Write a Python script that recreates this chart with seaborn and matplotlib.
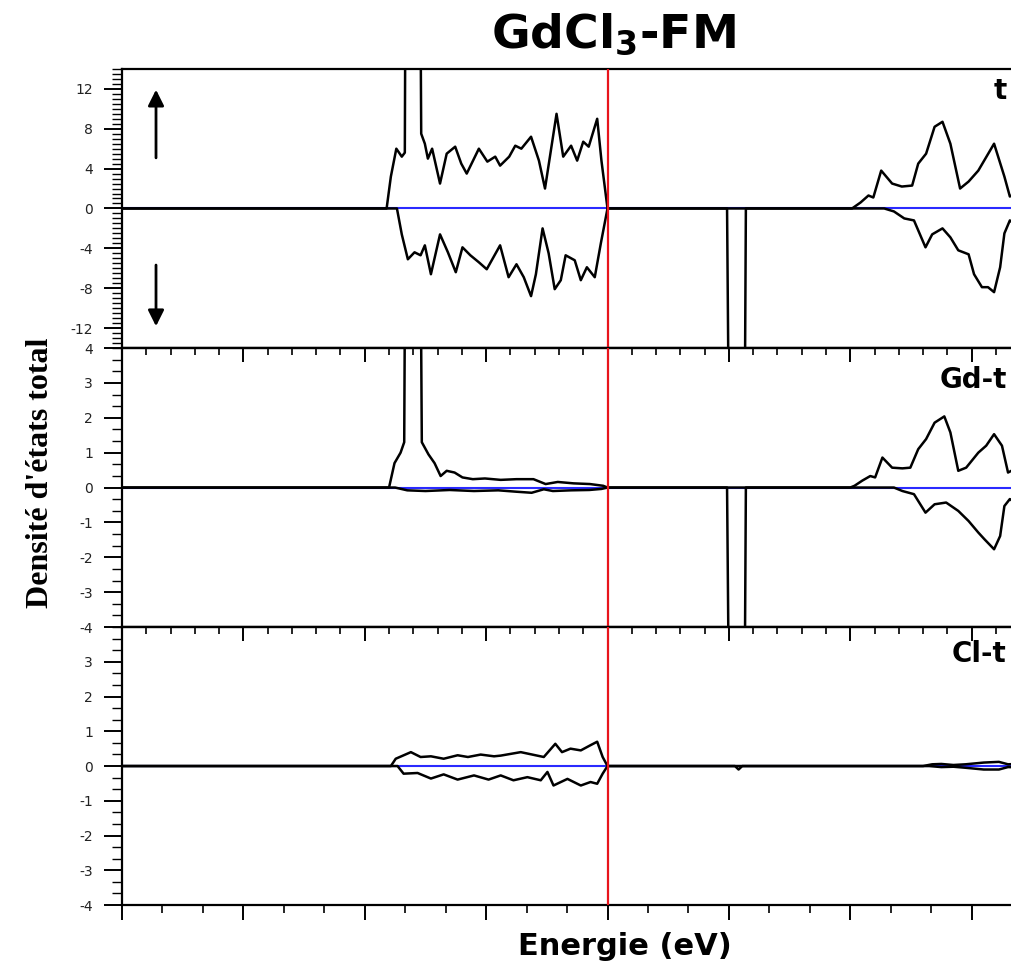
import matplotlib
matplotlib.use("Agg")
import matplotlib.pyplot as plt
from matplotlib.ticker import MultipleLocator, FixedLocator
import seaborn as sns

sns.set_style("ticks")
plt.rcParams['font.family'] = ['DejaVu Sans']
plt.rcParams['mathtext.fontset'] = 'dejavusans'
plt.rcParams['axes.unicode_minus'] = False
plt.rcParams['text.color'] = 'black'
plt.rcParams['xtick.color'] = 'black'
plt.rcParams['ytick.color'] = 'black'

# Energies in eV (E_F = 0), DOS in states/eV
tot_up_e = [-8, -3.64, -3.57, -3.48, -3.39, -3.34, -3.32, -3.10, -3.07, -3.01, -2.96, -2.89, -2.76,
            -2.65, -2.51, -2.41, -2.32, -2.12, -1.98, -1.85, -1.77, -1.62, -1.52, -1.42, -1.26,
            -1.13, -1.03, -0.84, -0.73, -0.60, -0.50, -0.40, -0.31, -0.17, -0.10, 0.0,
            4.03, 4.17, 4.30, 4.38, 4.51, 4.69, 4.85, 5.02, 5.12, 5.25, 5.39, 5.52, 5.65,
            5.81, 5.95, 6.11, 6.37, 6.54, 6.63, 7.0, 7.5, 8.0]
tot_up = [0, 0, 3.2, 6.0, 5.2, 5.6, 40, 40, 7.5, 6.5, 5.0, 6.0, 2.5,
          5.5, 6.2, 4.5, 3.5, 6.0, 4.7, 5.2, 4.3, 5.2, 6.3, 6.0, 7.2,
          4.8, 2.0, 9.5, 5.2, 6.3, 4.8, 6.7, 6.2, 9.0, 4.8, 0,
          0, 0.6, 1.3, 1.1, 3.8, 2.5, 2.2, 2.3, 4.5, 5.5, 8.2, 8.7, 6.5,
          2.0, 2.7, 3.8, 6.5, 3.2, 1.2, 2.5, 3.5, 2.0]

tot_dn_e = [-8, -3.47, -3.39, -3.29, -3.18, -3.08, -3.01, -2.91, -2.76, -2.63, -2.50, -2.39, -2.26,
            -2.12, -1.99, -1.77, -1.63, -1.50, -1.38, -1.26, -1.18, -1.07, -0.97, -0.87, -0.77,
            -0.69, -0.54, -0.44, -0.34, -0.21, -0.11, 0.0,
            1.97, 2.03, 2.24, 2.28,
            4.56, 4.72, 4.89, 5.05, 5.24, 5.35, 5.52, 5.65, 5.78, 5.95, 6.04, 6.17, 6.27,
            6.37, 6.47, 6.54, 6.63, 7.0, 7.5, 8.0]
tot_dn = [0, 0, -2.6, -5.1, -4.4, -4.7, -3.7, -6.6, -2.6, -4.4, -6.4, -3.9, -4.7,
          -5.4, -6.1, -3.7, -6.9, -5.6, -6.9, -8.8, -6.6, -2.0, -4.5, -8.1, -7.2,
          -4.7, -5.2, -7.2, -5.9, -6.9, -3.5, 0,
          0, -45, -45, 0,
          0, -0.3, -1.0, -1.2, -3.9, -2.6, -2.0, -2.9, -4.2, -4.6, -6.6, -7.9, -7.9,
          -8.4, -5.9, -2.5, -1.2, -3.0, -4.0, -2.0]

gd_up_e = [-8, -3.60, -3.51, -3.41, -3.35, -3.32, -3.10, -3.06, -2.95, -2.85, -2.75, -2.65, -2.52,
           -2.39, -2.22, -2.02, -1.76, -1.50, -1.22, -1.02, -0.82, -0.56, -0.29, -0.07, 0.0,
           4.0, 4.07, 4.20, 4.33, 4.41, 4.53, 4.69, 4.86, 4.99, 5.12, 5.25, 5.39, 5.55, 5.65,
           5.78, 5.91, 6.11, 6.24, 6.37, 6.50, 6.60, 7.0, 7.5, 8.0]
gd_up = [0, 0, 0.7, 1.0, 1.3, 12, 12, 1.3, 0.95, 0.7, 0.33, 0.48, 0.43,
         0.29, 0.24, 0.26, 0.22, 0.24, 0.24, 0.10, 0.16, 0.12, 0.10, 0.05, 0,
         0, 0.05, 0.2, 0.33, 0.29, 0.86, 0.57, 0.55, 0.57, 1.1, 1.39, 1.86, 2.04, 1.58,
         0.48, 0.57, 1.0, 1.2, 1.53, 1.2, 0.43, 0.8, 1.0, 0.6]

gd_dn_e = [-8, -3.5, -3.3, -3.0, -2.6, -2.2, -1.8, -1.5, -1.25, -1.05, -0.9, -0.6, -0.3, -0.1, 0.0,
           1.97, 2.03, 2.24, 2.28,
           4.72, 4.86, 5.05, 5.24, 5.39, 5.58, 5.78, 5.95, 6.11, 6.21, 6.37, 6.47, 6.54, 6.63,
           7.0, 7.5, 8.0]
gd_dn = [0, 0, -0.08, -0.1, -0.07, -0.1, -0.08, -0.12, -0.15, -0.05, -0.1, -0.08, -0.07, -0.04, 0,
         0, -12, -12, 0,
         0, -0.1, -0.19, -0.72, -0.48, -0.43, -0.67, -0.96, -1.29, -1.48, -1.77, -1.39, -0.53, -0.33,
         -0.8, -1.0, -0.5]

cl_up_e = [-8, -3.57, -3.49, -3.24, -3.08, -2.91, -2.70, -2.47, -2.30, -2.09, -1.87, -1.76, -1.43,
           -1.05, -0.86, -0.75, -0.61, -0.44, -0.28, -0.17, -0.08, 0.0,
           5.2, 5.35, 5.5, 5.7, 5.9, 6.2, 6.45, 6.6, 7.0, 8.0]
cl_up = [0, 0, 0.21, 0.40, 0.26, 0.28, 0.21, 0.31, 0.26, 0.33, 0.28, 0.30, 0.40,
         0.26, 0.64, 0.40, 0.50, 0.45, 0.60, 0.70, 0.26, 0,
         0, 0.05, 0.06, 0.03, 0.05, 0.1, 0.12, 0.05, 0.08, 0.05]

cl_dn_e = [-8, -3.46, -3.36, -3.13, -2.91, -2.70, -2.47, -2.20, -1.96, -1.76, -1.55, -1.32, -1.10,
           -0.99, -0.89, -0.66, -0.44, -0.28, -0.17, -0.08, 0.0,
           2.10, 2.16, 2.22,
           5.3, 5.5, 5.7, 5.9, 6.2, 6.45, 6.6, 7.0, 8.0]
cl_dn = [0, 0, -0.22, -0.20, -0.36, -0.24, -0.39, -0.27, -0.39, -0.27, -0.41, -0.32, -0.41,
         -0.17, -0.56, -0.37, -0.56, -0.46, -0.51, -0.22, 0,
         0, -0.1, 0,
         0, -0.03, -0.02, -0.05, -0.1, -0.1, -0.03, -0.05, -0.03]

# panel labels as far as they show in the figure
panel_names = ["t", "Gd-t", "Cl-t"]
panels = [(tot_up_e, tot_up, tot_dn_e, tot_dn),
          (gd_up_e, gd_up, gd_dn_e, gd_dn),
          (cl_up_e, cl_up, cl_dn_e, cl_dn)]

fig = plt.figure(figsize=(10.11, 9.66), dpi=100)
left, width = 0.1207, 0.9604
boxes = [(0.6398, 0.2888), (0.3509, 0.2888), (0.0631, 0.2878)]
label_y = [0.892, 0.857, 0.874]

axes = []
for i, (b, h) in enumerate(boxes):
    ax = fig.add_axes([left, b, width, h])
    axes.append(ax)
    up_e, up, dn_e, dn = panels[i]
    ax.axhline(0, color="#2a2aff", lw=1.5, zorder=1)
    sns.lineplot(x=up_e, y=up, ax=ax, color="k", lw=1.8, sort=False, estimator=None, zorder=2)
    sns.lineplot(x=dn_e, y=dn, ax=ax, color="k", lw=1.8, sort=False, estimator=None, zorder=2)
    ax.axvline(0, color="#e8141c", lw=1.6, zorder=3)
    ax.set_xlim(-8, 8)
    for s in ax.spines.values():
        s.set_linewidth(1.6)
        s.set_color("k")
    ax.set_xlabel("")
    ax.set_ylabel("")
    ax.text(6.58, label_y[i], panel_names[i], transform=ax.get_xaxis_transform(),
            ha="right", va="baseline", fontsize=20, fontweight="bold")
    ax.tick_params(axis="y", which="major", direction="out", length=13, width=1.4,
                   labelsize=10, labelcolor="#222222", pad=8)
    ax.tick_params(axis="y", which="minor", direction="out", length=7, width=1.0)

# y scales
axes[0].set_ylim(-14, 14)
axes[0].yaxis.set_major_locator(FixedLocator([-12, -8, -4, 0, 4, 8, 12]))
axes[0].yaxis.set_minor_locator(MultipleLocator(0.5))
axes[1].set_ylim(-4, 4)
axes[1].yaxis.set_major_locator(MultipleLocator(1))
axes[1].yaxis.set_minor_locator(MultipleLocator(1 / 3))
axes[2].set_ylim(-4, 4)
axes[2].yaxis.set_major_locator(FixedLocator([-4, -3, -2, -1, 0, 1, 2, 3]))
axes[2].yaxis.set_minor_locator(MultipleLocator(1 / 3))

# x ticks: only on the bottom axis, plus inward ticks on top of lower panels
for ax in axes[:2]:
    ax.tick_params(axis="x", which="both", bottom=False, labelbottom=False)
axes[2].xaxis.set_major_locator(MultipleLocator(2))
axes[2].xaxis.set_minor_locator(MultipleLocator(2 / 3))
axes[2].tick_params(axis="x", which="major", direction="out", length=11, width=1.4, labelbottom=False)
axes[2].tick_params(axis="x", which="minor", direction="out", length=6, width=1.2)
for ax in axes[1:]:
    sec = ax.secondary_xaxis("top")
    sec.xaxis.set_major_locator(MultipleLocator(2))
    sec.xaxis.set_minor_locator(MultipleLocator(0.4))
    sec.tick_params(axis="x", which="major", direction="in", length=10, width=1.4, labeltop=False)
    sec.tick_params(axis="x", which="minor", direction="in", length=5, width=1.2)
    sec.spines["top"].set_linewidth(1.6)

# spin arrows
axes[0].annotate("", xy=(-7.44, 12.2), xytext=(-7.44, 4.8),
                 arrowprops=dict(arrowstyle="-|>", color="k", lw=2, mutation_scale=24))
axes[0].annotate("", xy=(-7.44, -12.1), xytext=(-7.44, -5.4),
                 arrowprops=dict(arrowstyle="-|>", color="k", lw=2, mutation_scale=24))

fig.text(613 / 1011, 0.951, r"GdCl$_{\mathbf{3}}$-FM", ha="center", va="baseline",
         fontsize=34, fontweight="bold")
fig.text(625 / 1011, 0.0114, "Energie (eV)", ha="center", va="baseline",
         fontsize=22, fontweight="bold")
fig.text(41 / 1011, 1 - 473 / 966, "Densité d'états total", rotation=90, ha="center",
         va="center", family=["Liberation Serif"], fontweight="bold", fontsize=23)

fig.savefig("out.png", dpi=100)
